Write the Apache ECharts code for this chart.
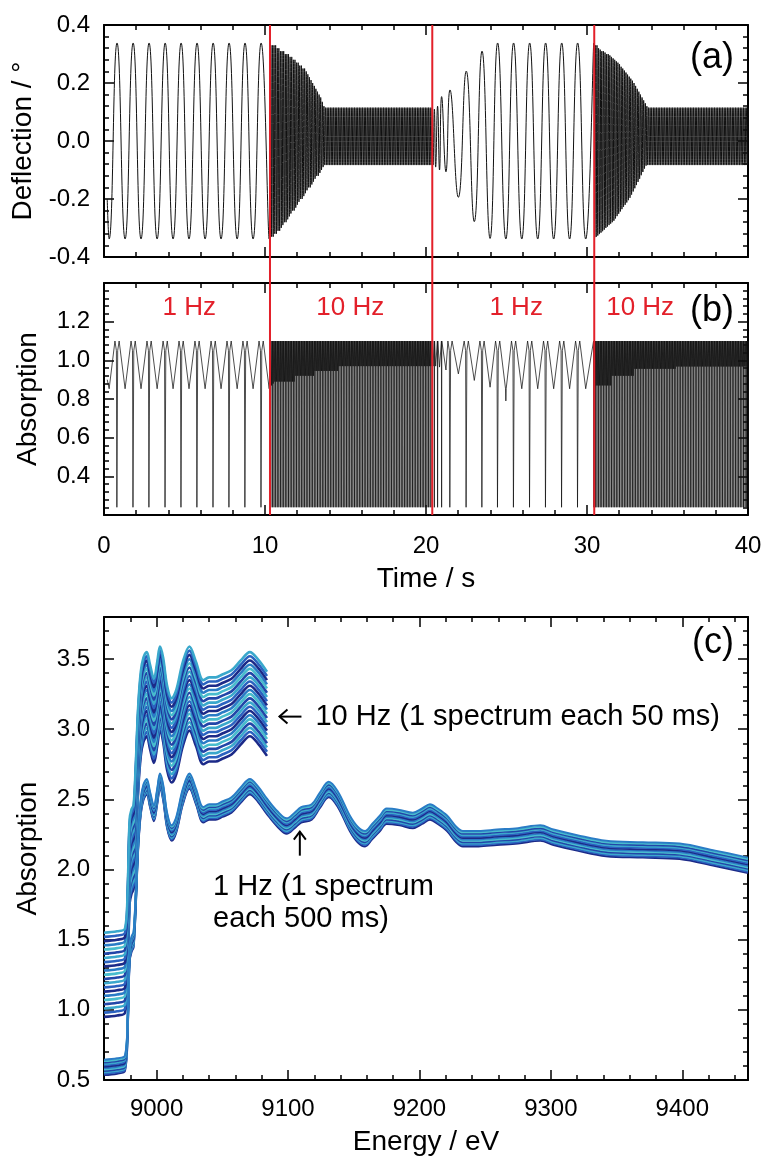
<!DOCTYPE html>
<html><head><meta charset="utf-8">
<script src="https://cdn.jsdelivr.net/npm/echarts@6/dist/echarts.min.js"></script>
<style>html,body{margin:0;padding:0;background:#fff}#c{width:764px;height:1158px}</style>
</head><body><div id="c"></div>
<script>
// ================= DATA =================
// ---- Panel (a): deflection (deg) vs time (s) ----
// 1 Hz part: extremes [time, deflection]
const deflSeg1 = [[0.20,-0.20],[0.32,-0.338],[0.81,0.338],[1.31,-0.338],[1.81,0.338],[2.30,-0.338],[2.80,0.338],[3.30,-0.338],[3.80,0.338],[4.29,-0.338],[4.79,0.338],[5.28,-0.338],[5.78,0.338],[6.28,-0.338],[6.78,0.338],[7.27,-0.338],[7.77,0.338],[8.27,-0.338],[8.76,0.338],[9.26,-0.338],[9.76,0.338],[10.26,-0.338]];
// 10 Hz part 1: one peak and one trough per 0.1 s cycle, starting at deflSeg2Start
const deflSeg2Start = 10.36;
const deflSeg2Peaks = [
0.33,0.33,0.33,0.33,0.32,0.32,0.31,0.31,0.31,0.30,
0.30,0.30,0.29,0.29,0.28,0.28,0.27,0.27,0.26,0.26,
0.25,0.25,0.24,0.23,0.22,0.21,0.20,0.19,0.18,0.17,
0.16,0.15,0.135,0.12,0.115,0.115,0.115,0.115,0.115,0.115,
0.115,0.115,0.115,0.115,0.115,0.115,0.115,0.115,0.115,0.115,
0.115,0.115,0.115,0.115,0.115,0.115,0.115,0.115,0.115,0.115,
0.115,0.115,0.115,0.115,0.115,0.115,0.115,0.115,0.115,0.115,
0.115,0.115,0.115,0.115,0.115,0.115,0.115,0.115,0.115,0.115,
0.115,0.115,0.115,0.115,0.115,0.115,0.115,0.115,0.115,0.115,
0.115,0.115,0.115,0.115,0.115,0.115,0.115,0.115,0.115,0.115];
const deflSeg2Troughs = [
-0.33,-0.33,-0.32,-0.32,-0.31,-0.31,-0.30,-0.29,-0.28,-0.28,
-0.27,-0.26,-0.25,-0.24,-0.24,-0.23,-0.22,-0.21,-0.20,-0.20,
-0.19,-0.18,-0.17,-0.16,-0.16,-0.15,-0.14,-0.13,-0.12,-0.12,
-0.11,-0.10,-0.09,-0.083,-0.083,-0.083,-0.083,-0.083,-0.083,-0.083,
-0.083,-0.083,-0.083,-0.083,-0.083,-0.083,-0.083,-0.083,-0.083,-0.083,
-0.083,-0.083,-0.083,-0.083,-0.083,-0.083,-0.083,-0.083,-0.083,-0.083,
-0.083,-0.083,-0.083,-0.083,-0.083,-0.083,-0.083,-0.083,-0.083,-0.083,
-0.083,-0.083,-0.083,-0.083,-0.083,-0.083,-0.083,-0.083,-0.083,-0.083,
-0.083,-0.083,-0.083,-0.083,-0.083,-0.083,-0.083,-0.083,-0.083,-0.083,
-0.083,-0.083,-0.083,-0.083,-0.083,-0.083,-0.083,-0.083,-0.083,-0.083];
// back to 1 Hz: extremes [time, deflection]
const deflSeg3 = [[20.38,0.115],[20.44,-0.083],[20.52,0.11],[20.60,-0.09],[20.72,0.12],[20.84,-0.10],[20.97,0.153],[21.24,-0.106],[21.49,0.176],[22.01,-0.194],[22.50,0.241],[23.00,-0.278],[23.48,0.31],[23.98,-0.336],[24.45,0.338],[24.96,-0.338],[25.44,0.338],[25.95,-0.338],[26.44,0.338],[26.94,-0.338],[27.43,0.338],[27.93,-0.338],[28.43,0.338],[28.92,-0.338],[29.42,0.338],[29.92,-0.338],[30.42,0.338]];
// 10 Hz part 2: trough then peak per 0.1 s cycle, starting at deflSeg4Start
const deflSeg4Start = 30.47;
const deflSeg4Troughs = [
-0.335,-0.331,-0.326,-0.321,-0.316,-0.311,-0.306,-0.300,-0.295,-0.290,
-0.285,-0.280,-0.275,-0.267,-0.259,-0.251,-0.243,-0.235,-0.227,-0.220,
-0.212,-0.204,-0.196,-0.185,-0.174,-0.163,-0.152,-0.141,-0.130,-0.118,
-0.107,-0.095,-0.085,-0.083,-0.083,-0.083,-0.083,-0.083,-0.083,-0.083,
-0.083,-0.083,-0.083,-0.083,-0.083,-0.083,-0.083,-0.083,-0.083,-0.083,
-0.083,-0.083,-0.083,-0.083,-0.083,-0.083,-0.083,-0.083,-0.083,-0.083,
-0.083,-0.083,-0.083,-0.083,-0.083,-0.083,-0.083,-0.083,-0.083,-0.083,
-0.083,-0.083,-0.083,-0.083,-0.083,-0.083,-0.083,-0.083,-0.083,-0.083,
-0.083,-0.083,-0.083,-0.083,-0.083,-0.083,-0.083,-0.083,-0.083,-0.083,
-0.083,-0.083,-0.083,-0.083,-0.083,-0.083];
const deflSeg4Peaks = [
0.33,0.33,0.32,0.315,0.31,0.31,0.305,0.30,0.30,0.295,
0.29,0.285,0.28,0.275,0.27,0.265,0.256,0.25,0.243,0.236,
0.229,0.222,0.215,0.208,0.20,0.19,0.18,0.17,0.16,0.15,
0.14,0.13,0.12,0.115,0.115,0.115,0.115,0.115,0.115,0.115,
0.115,0.115,0.115,0.115,0.115,0.115,0.115,0.115,0.115,0.115,
0.115,0.115,0.115,0.115,0.115,0.115,0.115,0.115,0.115,0.115,
0.115,0.115,0.115,0.115,0.115,0.115,0.115,0.115,0.115,0.115,
0.115,0.115,0.115,0.115,0.115,0.115,0.115,0.115,0.115,0.115,
0.115,0.115,0.115,0.115,0.115,0.115,0.115,0.115,0.115,0.115,
0.115,0.115,0.115,0.115,0.115,0.115];
const tenHzCycle = 0.1;

// ---- Panel (b): absorption vs time ----
const absStart = [[0.20,0.90]];
const absVMin1 = [[0.32,0.853],[1.31,0.853],[2.30,0.853],[3.30,0.853],[4.29,0.853],[5.28,0.853],[6.28,0.853],[7.27,0.853],[8.27,0.853],[9.26,0.853],[10.26,0.853]];
const absDip1 = [0.81,1.81,2.80,3.80,4.79,5.78,6.78,7.77,8.76,9.76];
// shape of the absorption around a deflection maximum [time offset, absorption]
const absDipShapeSlow = [[-0.13,1.10],[-0.04,1.05],[-0.01,0.24],[0.01,0.24],[0.04,1.05],[0.13,1.10]];
const absDipShapeFast = [[-0.012,1.10],[0,0.24],[0.012,1.10]];
const absSeg2Low = [
0.87,0.88,0.89,0.89,0.89,0.89,0.89,0.89,0.89,0.89,
0.89,0.89,0.89,0.89,0.89,0.92,0.92,0.92,0.92,0.92,
0.92,0.92,0.92,0.92,0.92,0.92,0.92,0.945,0.945,0.945,
0.945,0.945,0.945,0.945,0.945,0.945,0.945,0.945,0.945,0.945,
0.945,0.945,0.97,0.97,0.97,0.97,0.97,0.97,0.97,0.97,
0.97,0.97,0.97,0.97,0.97,0.97,0.97,0.97,0.97,0.97,
0.97,0.97,0.97,0.97,0.97,0.97,0.97,0.97,0.97,0.97,
0.97,0.97,0.97,0.97,0.97,0.97,0.97,0.97,0.97,0.97,
0.97,0.97,0.97,0.97,0.97,0.97,0.97,0.97,0.97,0.97,
0.97,0.97,0.97,0.97,0.97,0.97,0.97,0.97,0.97,0.97];
const absVMin3 = [[20.44,0.97],[20.60,0.97],[20.84,0.965],[21.24,0.95],[22.01,0.93],[23.00,0.896],[23.98,0.861],[24.94,0.853],[24.96,0.79],[24.98,0.853],[25.95,0.853],[26.94,0.853],[27.93,0.853],[28.92,0.853],[29.92,0.853]];
const absDip3Fast = [20.38,20.52,20.72,20.97,30.42];
const absDip3Slow = [21.49,22.50,23.48,24.45,25.44,26.44,27.43,28.43,29.42];
const absSeg4Low = [
0.86,0.87,0.87,0.87,0.87,0.87,0.87,0.87,0.87,0.87,
0.87,0.92,0.92,0.92,0.92,0.92,0.92,0.92,0.92,0.92,
0.92,0.92,0.92,0.92,0.92,0.956,0.956,0.956,0.956,0.956,
0.956,0.956,0.956,0.956,0.956,0.956,0.956,0.956,0.956,0.956,
0.956,0.956,0.956,0.956,0.956,0.956,0.956,0.956,0.956,0.956,
0.956,0.968,0.968,0.968,0.968,0.968,0.968,0.968,0.968,0.968,
0.968,0.968,0.968,0.968,0.968,0.968,0.968,0.968,0.968,0.968,
0.968,0.968,0.968,0.968,0.968,0.968,0.968,0.968,0.968,0.968,
0.968,0.968,0.968,0.968,0.968,0.968,0.968,0.968,0.968,0.968,
0.968,0.968,0.968,0.968,0.968,0.968];

const modeSwitchTimes = [10.31, 20.39, 30.45];
const rateLabels = ['1 Hz','10 Hz','1 Hz','10 Hz'];
const rateLabelTimes = [5.3, 15.3, 25.6, 33.3];
const rateLabelLevel = 1.272;

// ---- Panel (c): Cu K-edge spectra ----
const cuEnergy = [8960,8970,8976,8978,8979.5,8981,8982.5,8984,8986,8988,8990,8992.5,8995,8998,9000.5,9002.6,9005,9008,9011.5,9015,9020,9025,9030,9035.6,9040,9045,9050,9057,9064,9071,9077,9084,9092,9099,9105,9110,9118,9124,9131,9138,9147,9153,9158.6,9164,9170,9175,9185,9195,9202,9208,9214,9221,9228,9233,9245,9259,9275,9292,9302,9320,9342,9370,9398,9425,9450];
const cuAbsorption = [0.59,0.60,0.62,0.90,1.40,1.47,1.50,1.75,2.20,2.45,2.55,2.59,2.50,2.40,2.52,2.63,2.55,2.35,2.26,2.32,2.52,2.63,2.52,2.39,2.41,2.41,2.43,2.46,2.53,2.59,2.54,2.45,2.36,2.31,2.35,2.39,2.41,2.49,2.57,2.50,2.33,2.25,2.22,2.27,2.33,2.38,2.37,2.35,2.38,2.41,2.38,2.33,2.25,2.22,2.22,2.23,2.24,2.26,2.23,2.19,2.15,2.14,2.13,2.08,2.03];
const cuOffsets1Hz = [-0.055,-0.045,-0.035,-0.025,-0.015,-0.005,0.005,0.015,0.025,0.035,0.045,0.055];
const cuOffsets10Hz = [0.36,0.39,0.42,0.45,0.48,0.51,0.54,0.57,0.60,0.63,0.66,0.69,0.72,0.75,0.78,0.81,0.84,0.87,0.90,0.93,0.96];
const cu10HzLastEnergy = 9084;

// annotation anchors (data coordinates of panel c)
const note10HzArrowTip = [9093.5, 3.09];
const note1HzArrowTip = [9109, 2.27];
const note1HzText = [9043, 1.76];

// tick labels
const timeTicks = [0,10,20,30,40];
const deflTicks = [-0.4,-0.2,0,0.2,0.4];
const absTicksB = [0.2,0.4,0.6,0.8,1.0,1.2,1.4];
const absTicksBLabels = [0.4,0.6,0.8,1.0,1.2];
const energyTicks = [9000,9100,9200,9300,9400];
const absTicksC = [0.5,1.0,1.5,2.0,2.5,3.0,3.5];

// ================= BUILD =================
const r3 = v => Math.round(v*1000)/1000;
function alternate(t0, first, second) {
  const out = [];
  for (let i = 0; i < first.length; i++) {
    out.push([r3(t0 + i*tenHzCycle), first[i]]);
    out.push([r3(t0 + tenHzCycle/2 + i*tenHzCycle), second[i]]);
  }
  return out;
}
const deflData = [].concat(deflSeg1, alternate(deflSeg2Start, deflSeg2Peaks, deflSeg2Troughs), deflSeg3, alternate(deflSeg4Start, deflSeg4Troughs, deflSeg4Peaks));

const absPts = [];
absStart.forEach(p => absPts.push(p));
absVMin1.forEach(p => absPts.push(p));
absVMin3.forEach(p => absPts.push(p));
const addDip = (tp, shape) => shape.forEach(([dt, v]) => absPts.push([r3(tp + dt), v]));
absDip1.forEach(tp => addDip(tp, absDipShapeSlow));
absDip3Slow.forEach(tp => addDip(tp, absDipShapeSlow));
absDip3Fast.forEach(tp => addDip(tp, absDipShapeFast));
absSeg2Low.forEach((v, i) => { const tp = deflSeg2Start + i*tenHzCycle; addDip(tp, absDipShapeFast); absPts.push([r3(tp + tenHzCycle/2), v]); });
absSeg4Low.forEach((v, i) => { const tt = deflSeg4Start + i*tenHzCycle; absPts.push([r3(tt), v]); addDip(tt + tenHzCycle/2, absDipShapeFast); });
absPts.sort((a, b) => a[0] - b[0]);

const curvePalette = ['#1c2a88','#2b62c0','#3aa8cc','#2246a8','#48bccd','#2a7cc6'];

const FONT = "'Liberation Sans', Arial, sans-serif";
const chart = echarts.init(document.getElementById('c'), null, {renderer: 'canvas'});

function majorAxis(gi, pos, min, max, ticks, labels, fmt, name, nameGap, labelMargin) {
  return {
    type: 'value', gridIndex: gi, position: pos, min: min, max: max,
    name: name || '', nameLocation: 'middle', nameGap: nameGap || 0,
    nameTextStyle: {fontSize: 28, fontFamily: FONT, color: '#000'},
    axisLine: {show: true, onZero: false, lineStyle: {color: '#000', width: 2}},
    axisTick: {show: true, inside: true, length: 10, customValues: ticks, lineStyle: {color: '#000', width: 1.5}},
    axisLabel: {show: !!labels, customValues: labels || ticks, formatter: fmt, color: '#000', fontSize: 24, fontFamily: FONT,
      margin: labelMargin || ((pos === 'left' || pos === 'right') ? 14 : 16)},
    splitLine: {show: false}
  };
}
function minorAxis(gi, pos, min, max, step) {
  return {
    type: 'value', gridIndex: gi, position: pos, min: min, max: max, interval: step,
    axisLine: {show: false, onZero: false},
    axisTick: {show: true, inside: true, length: 5, lineStyle: {color: '#000', width: 1.5}},
    axisLabel: {show: false}, splitLine: {show: false}
  };
}
const f1 = v => v.toFixed(1);
const f0 = v => String(Math.round(v));

const grids = [
  {left: 104, top: 25, width: 644, height: 232, outerBoundsMode: 'none'},
  {left: 104, top: 283, width: 644, height: 232, outerBoundsMode: 'none'},
  {left: 104, top: 617, width: 644, height: 463, outerBoundsMode: 'none'}
];
const xAxes = [
  majorAxis(0,'bottom',0,40,timeTicks,null,f0), minorAxis(0,'bottom',0,40,2),
  majorAxis(0,'top',0,40,timeTicks,null,f0), minorAxis(0,'top',0,40,2),
  majorAxis(1,'bottom',0,40,timeTicks,timeTicks,f0,'Time / s',50,19), minorAxis(1,'bottom',0,40,2),
  majorAxis(1,'top',0,40,timeTicks,null,f0), minorAxis(1,'top',0,40,2),
  majorAxis(2,'bottom',8960,9450,energyTicks,energyTicks,f0,'Energy / eV',48,17), minorAxis(2,'bottom',8960,9450,20),
  majorAxis(2,'top',8960,9450,energyTicks,null,f0), minorAxis(2,'top',8960,9450,20)
];
const yAxes = [
  majorAxis(0,'left',-0.4,0.4,deflTicks,deflTicks,f1,'Deflection / °',62), minorAxis(0,'left',-0.4,0.4,0.04),
  majorAxis(0,'right',-0.4,0.4,deflTicks,null,f1), minorAxis(0,'right',-0.4,0.4,0.04),
  majorAxis(1,'left',0.2,1.4,absTicksB,absTicksBLabels,f1,'Absorption',62), minorAxis(1,'left',0.2,1.4,0.04),
  majorAxis(1,'right',0.2,1.4,absTicksB,null,f1), minorAxis(1,'right',0.2,1.4,0.04),
  majorAxis(2,'left',0.5,3.8,absTicksC,absTicksC,f1,'Absorption',62), minorAxis(2,'left',0.5,3.8,0.1),
  majorAxis(2,'right',0.5,3.8,absTicksC,null,f1), minorAxis(2,'right',0.5,3.8,0.1)
];

const series = [
  {type: 'line', xAxisIndex: 0, yAxisIndex: 0, data: deflData, showSymbol: false, smooth: 0.5,
   lineStyle: {color: '#111', width: 1}, silent: true, z: 3},
  {type: 'line', xAxisIndex: 4, yAxisIndex: 4, data: absPts, showSymbol: false,
   lineStyle: {color: '#111', width: 0.75}, silent: true, z: 3}
];
cuOffsets10Hz.forEach((off, i) => {
  const d = [];
  cuEnergy.forEach((e, k) => { if (e <= cu10HzLastEnergy) d.push([e, r3(cuAbsorption[k] + off)]); });
  series.push({type: 'line', xAxisIndex: 8, yAxisIndex: 8, data: d, showSymbol: false, smooth: 0.35,
    lineStyle: {color: curvePalette[i % curvePalette.length], width: 2.6}, silent: true});
});
cuOffsets1Hz.forEach((off, i) => {
  const d = cuEnergy.map((e, k) => [e, r3(cuAbsorption[k] + off)]);
  series.push({type: 'line', xAxisIndex: 8, yAxisIndex: 8, data: d, showSymbol: false, smooth: 0.35,
    lineStyle: {color: curvePalette[i % curvePalette.length], width: 2}, silent: true});
});

chart.setOption({
  animation: false,
  backgroundColor: '#fff',
  grid: grids, xAxis: xAxes, yAxis: yAxes, series: series
});

// ---- overlays tied to data coordinates ----
const px = (ax, v) => chart.convertToPixel({xAxisIndex: ax}, v);
const py = (ax, v) => chart.convertToPixel({yAxisIndex: ax}, v);
const g = [];
const redTop = py(0, 0.4), redBottom = py(4, 0.2);
modeSwitchTimes.forEach(t => {
  const x = px(0, t);
  g.push({type: 'line', shape: {x1: x, y1: redTop, x2: x, y2: redBottom}, style: {stroke: '#e3202a', lineWidth: 2}, z: 100});
});
rateLabels.forEach((s, i) => {
  g.push({type: 'text', x: px(4, rateLabelTimes[i]), y: py(4, rateLabelLevel),
    style: {text: s, fill: '#e3202a', font: '26px ' + FONT, align: 'center', verticalAlign: 'middle'}, z: 100});
});
[['(a)', 58], ['(b)', 311], ['(c)', 643]].forEach(([s, y]) => {
  g.push({type: 'text', x: 734, y: y, style: {text: s, fill: '#000', font: '36px ' + FONT, align: 'right', verticalAlign: 'middle'}, z: 100});
});
// left arrow + 10 Hz note
const a1x = px(8, note10HzArrowTip[0]), a1y = py(8, note10HzArrowTip[1]);
g.push({type: 'polyline', shape: {points: [[a1x + 22, a1y], [a1x, a1y]]}, style: {stroke: '#000', lineWidth: 2, fill: null}, z: 100});
g.push({type: 'polyline', shape: {points: [[a1x + 8, a1y - 7], [a1x, a1y], [a1x + 8, a1y + 7]]}, style: {stroke: '#000', lineWidth: 2, fill: null}, z: 100});
g.push({type: 'text', x: a1x + 36, y: a1y,
  style: {text: '10 Hz (1 spectrum each 50 ms)', fill: '#000', font: '29px ' + FONT, align: 'left', verticalAlign: 'middle'}, z: 100});
// up arrow + 1 Hz note
const a2x = px(8, note1HzArrowTip[0]), a2y = py(8, note1HzArrowTip[1]);
g.push({type: 'polyline', shape: {points: [[a2x, a2y + 24], [a2x, a2y]]}, style: {stroke: '#000', lineWidth: 2, fill: null}, z: 100});
g.push({type: 'polyline', shape: {points: [[a2x - 6, a2y + 8], [a2x, a2y], [a2x + 6, a2y + 8]]}, style: {stroke: '#000', lineWidth: 2, fill: null}, z: 100});
g.push({type: 'text', x: px(8, note1HzText[0]), y: py(8, note1HzText[1]),
  style: {text: '1 Hz (1 spectrum\neach 500 ms)', fill: '#000', font: '29px ' + FONT, lineHeight: 32, align: 'left', verticalAlign: 'middle'}, z: 100});
chart.setOption({graphic: g});
</script></body></html>
